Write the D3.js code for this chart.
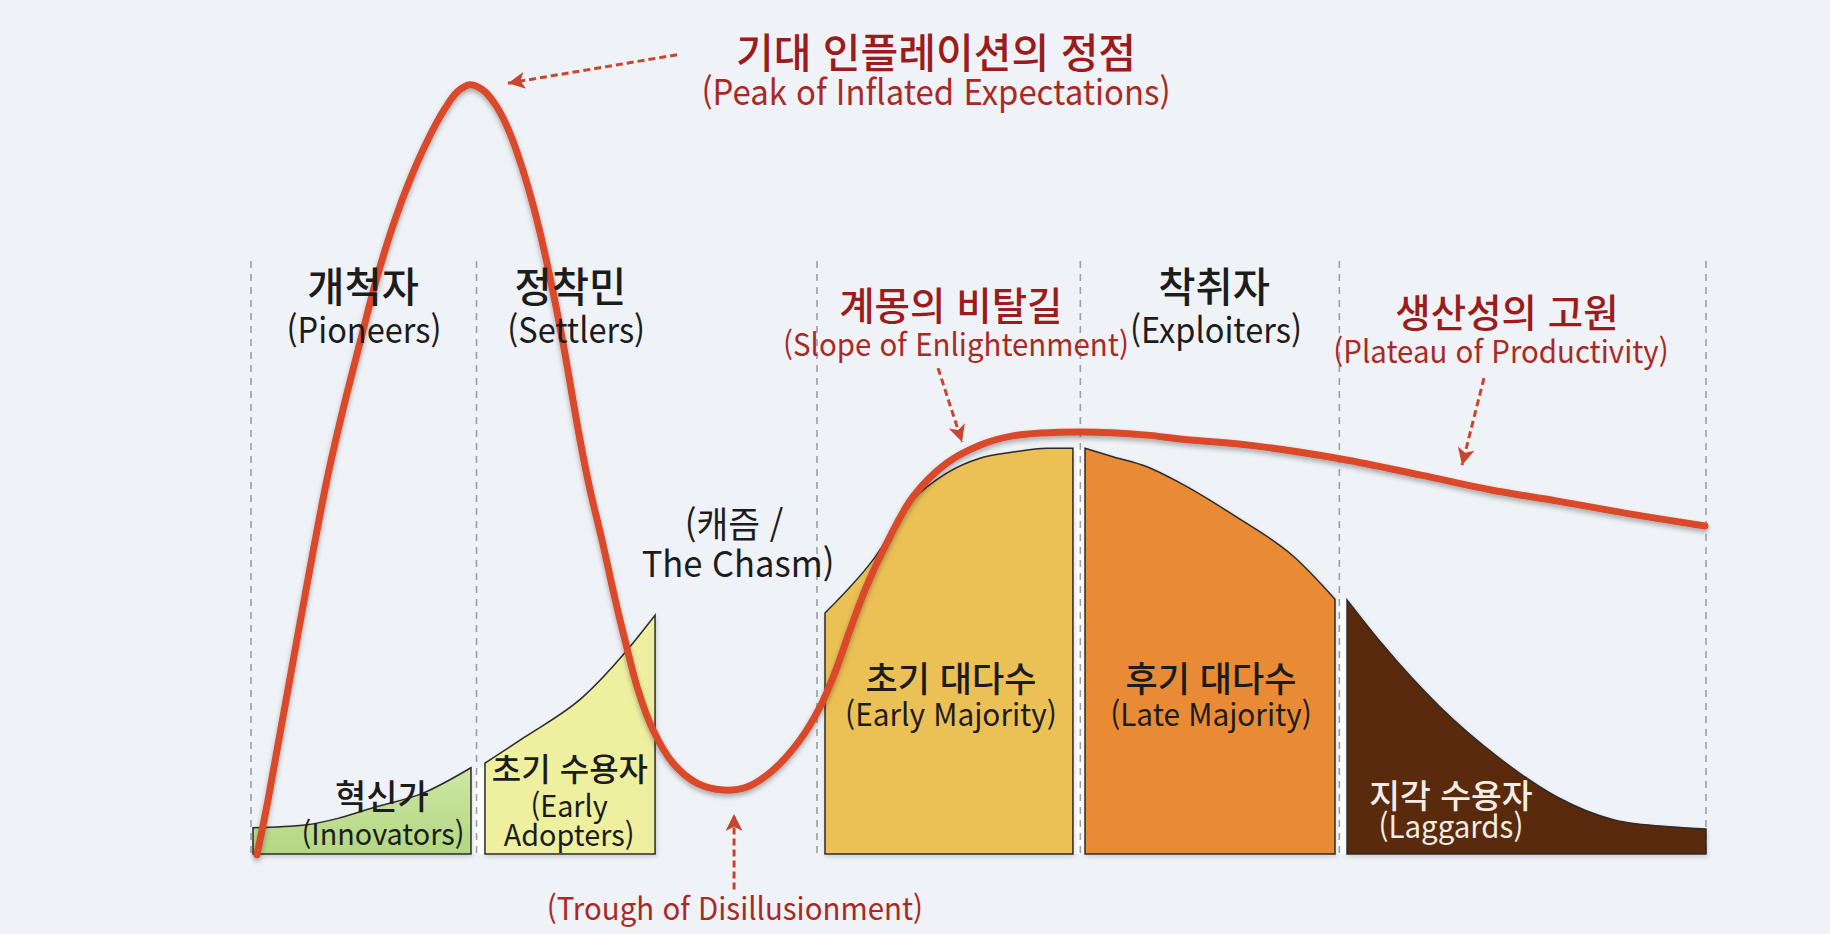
<!DOCTYPE html>
<html lang="ko">
<head>
<meta charset="utf-8">
<title>Hype Cycle and Adoption Curve</title>
<script src="https://cdn.jsdelivr.net/npm/d3@7"></script>
<style>
  body { margin: 0; background: #eff2f6; }
  text { font-family: "Noto Sans CJK KR", "Noto Sans", sans-serif; }
</style>
</head>
<body>
<script>

  // x: 0..100 between the outer dashed lines, y: 0 = baseline, 100 = top of the peak
  var hype = [
    [0.41, -0.1], [1.17, 7.0], [3.23, 28.6], [5.22, 48.6], [6.32, 57.7], [7.49, 66.4],
    [8.66, 74.9], [9.88, 82.3], [11.00, 87.9], [12.14, 92.7], [13.26, 96.6], [14.19, 99.0],
    [15.05, 99.9], [15.95, 99.2], [16.91, 97.0], [17.80, 93.6], [18.69, 88.8], [19.66, 82.3],
    [20.55, 74.9], [21.44, 66.4], [22.61, 53.8], [23.30, 47.3], [24.12, 40.8], [24.88, 34.3],
    [25.70, 27.8], [26.60, 21.3], [27.63, 16.1], [29.00, 11.8], [30.65, 9.2], [32.44, 8.3],
    [34.09, 8.7], [35.88, 10.9], [37.73, 14.8], [39.11, 19.1], [40.14, 23.6], [41.17, 29.1],
    [42.27, 34.6], [43.57, 39.9], [45.50, 46.4], [47.84, 50.8], [50.10, 53.1], [52.37, 54.3],
    [56.98, 54.8], [61.58, 54.4], [63.85, 53.9], [68.59, 53.1], [74.91, 51.3], [80.41, 49.2],
    [85.15, 47.3], [89.90, 45.8], [94.64, 44.2], [99.93, 42.6]
  ];

  // adoption curve pieces
  var innovators = [[0.14, 3.4], [3.85, 3.8], [6.12, 4.7], [8.38, 6.0], [11.82, 7.9], [15.12, 11.2]];
  var earlyAdopters = [[16.08, 11.8], [18.83, 15.2], [22.82, 20.4], [25.64, 26.0], [27.77, 31.0]];
  var earlyMajority = [[39.45, 31.3], [42.75, 38.2], [45.50, 46.0], [47.84, 49.5], [50.10, 51.4],
    [52.37, 52.2], [54.71, 52.7], [56.49, 52.7]];
  var lateMajority = [[57.32, 52.7], [59.24, 51.6], [61.58, 50.3], [63.85, 48.2], [67.70, 43.8],
    [71.68, 38.6], [74.50, 33.1]];
  var laggards = [[75.33, 33.0], [77.73, 27.3], [81.72, 19.1], [85.70, 12.6], [89.76, 7.4],
    [93.75, 4.4], [97.80, 3.5], [100, 3.25]];

  var segments = [innovators, earlyAdopters, earlyMajority, lateMajority, laggards];
  var segmentColors = ["url(#greenGrad)", "#eef0a0", "#ebc156", "#e98b36", "#5a2911"];

  // dashed dividers
  var dividers = [0, 15.5, 38.9, 57.0, 74.8, 100];
  var dividerTop = 77;

  // dashed arrows [from, to]
  var arrows = [
    [[29.28, 103.8], [17.66, 100.1]],
    [[47.22, 63.1], [48.87, 53.5]],
    [[84.74, 61.8], [83.23, 50.5]],
    [[33.20, -4.6], [33.20, 5.2]]
  ];

  // labels: text, x, y, kind
  var labels = [
    ["기대 인플레이션의 정점", 47.08, 102.1, "redTitle"],
    ["(Peak of Inflated Expectations)", 47.08, 97.3, "redSubBig"],
    ["개척자", 7.70, 71.7, "blackTitle"],
    ["(Pioneers)", 7.77, 66.4, "blackSub"],
    ["정착민", 21.95, 71.7, "blackTitle"],
    ["(Settlers)", 22.35, 66.4, "blackSub"],
    ["계몽의 비탈길", 48.10, 69.4, "redKr"],
    ["(Slope of Enlightenment)", 48.45, 64.7, "redSub"],
    ["착취자", 66.19, 71.7, "blackTitle"],
    ["(Exploiters)", 66.32, 66.4, "blackSub"],
    ["생산성의 고원", 86.32, 68.4, "redKr"],
    ["(Plateau of Productivity)", 85.91, 63.8, "redSub"],
    ["(캐즘 /", 33.20, 41.0, "chasm"],
    ["The Chasm)", 33.47, 36.0, "chasm"],
    ["혁신가", 9.00, 5.8, "innKr"],
    ["(Innovators)", 9.07, 1.2, "segEn"],
    ["초기 수용자", 21.92, 9.5, "segKr"],
    ["(Early", 21.86, 4.8, "segEn"],
    ["Adopters)", 21.86, 1.0, "segEn"],
    ["초기 대다수", 48.11, 21.0, "majKr"],
    ["(Early Majority)", 48.11, 16.6, "majEn"],
    ["후기 대다수", 65.98, 21.0, "majKr"],
    ["(Late Majority)", 65.98, 16.6, "majEn"],
    ["지각 수용자", 82.47, 6.0, "lagKr"],
    ["(Laggards)", 82.47, 2.1, "lagEn"],
    ["(Trough of Disillusionment)", 33.26, -8.6, "redSub"]
  ];

  var labelStyle = {
    redTitle: { size: 41, color: "#9b1c1c", weight: 500, sx: 1 },
    redSubBig: { size: 35, color: "#ab2925", weight: 400, sx: 0.94 },
    redKr: { size: 38.5, color: "#9b1c1c", weight: 500, sx: 1 },
    redSub: { size: 31, color: "#ab2925", weight: 400, sx: 0.95 },
    blackTitle: { size: 40.5, color: "#1c1c1c", weight: 500, sx: 1 },
    blackSub: { size: 35, color: "#1c1c1c", weight: 400, sx: 0.93 },
    chasm: { size: 36, color: "#1c1c1c", weight: 400, sx: 0.96 },
    innKr: { size: 34, color: "#1c1c1c", weight: 500, sx: 1 },
    segKr: { size: 32, color: "#1c1c1c", weight: 500, sx: 1 },
    segEn: { size: 30, color: "#1c1c1c", weight: 400, sx: 0.96 },
    majKr: { size: 35, color: "#1c1c1c", weight: 500, sx: 1 },
    majEn: { size: 31, color: "#1c1c1c", weight: 400, sx: 0.96 },
    lagKr: { size: 33.5, color: "#f4ede6", weight: 500, sx: 1 },
    lagEn: { size: 31, color: "#f4ede6", weight: 400, sx: 0.95 }
  };

  var w = 1830;
  var h = 934;

  var xScale = d3.scaleLinear().domain([0, 100]).range([251, 1706]);
  var yScale = d3.scaleLinear().domain([0, 100]).range([854, 84]);

  var svg = d3.select("body")
    .append("svg")
    .attr("width", w)
    .attr("height", h);

  var defs = svg.append("defs");

  var grad = defs.append("linearGradient")
    .attr("id", "greenGrad")
    .attr("x1", 0).attr("y1", 0).attr("x2", 0).attr("y2", 1);
  grad.append("stop").attr("offset", "0%").attr("stop-color", "#cfe6a4");
  grad.append("stop").attr("offset", "100%").attr("stop-color", "#b3d783");

  var shadow = defs.append("filter")
    .attr("id", "shadow")
    .attr("x", "-10%").attr("y", "-10%").attr("width", "120%").attr("height", "130%");
  shadow.append("feDropShadow")
    .attr("dx", 0).attr("dy", 3)
    .attr("stdDeviation", 2.5)
    .attr("flood-color", "#000")
    .attr("flood-opacity", 0.3);

  var softShadow = defs.append("filter")
    .attr("id", "softShadow")
    .attr("x", "-10%").attr("y", "-10%").attr("width", "120%").attr("height", "130%");
  softShadow.append("feDropShadow")
    .attr("dx", 1).attr("dy", 2)
    .attr("stdDeviation", 2)
    .attr("flood-color", "#000")
    .attr("flood-opacity", 0.15);

  defs.append("marker")
    .attr("id", "head")
    .attr("viewBox", "0 0 10 10")
    .attr("refX", 10).attr("refY", 5)
    .attr("markerUnits", "userSpaceOnUse")
    .attr("markerWidth", 20).attr("markerHeight", 17)
    .attr("orient", "auto")
    .append("path")
    .attr("d", "M0,0 L10,5 L0,10 L2.5,5 z")
    .attr("fill", "#c9452f");

  // white gaps between touching segments
  var gaps = [];
  for (var i = 0; i < segments.length - 1; i++) {
    var a = segments[i][segments[i].length - 1];
    var b = segments[i + 1][0];
    if (b[0] - a[0] < 2) gaps.push([a[0], b[0], Math.min(a[1], b[1])]);
  }
  svg.append("g")
    .selectAll("rect")
    .data(gaps)
    .enter()
    .append("rect")
    .attr("x", function (d) { return xScale(d[0]); })
    .attr("y", function (d) { return yScale(d[2]); })
    .attr("width", function (d) { return xScale(d[1]) - xScale(d[0]); })
    .attr("height", function (d) { return yScale(0) - yScale(d[2]); })
    .attr("fill", "#ffffff");

  // dashed dividers
  svg.append("g")
    .selectAll("line")
    .data(dividers)
    .enter()
    .append("line")
    .attr("x1", function (d) { return xScale(d); })
    .attr("x2", function (d) { return xScale(d); })
    .attr("y1", yScale(dividerTop))
    .attr("y2", yScale(0))
    .attr("stroke", "#9c9fa4")
    .attr("stroke-width", 1.6)
    .attr("stroke-dasharray", "7,6");

  // adoption curve pieces
  var area = d3.area()
    .x(function (d) { return xScale(d[0]); })
    .y0(yScale(0))
    .y1(function (d) { return yScale(d[1]); })
    .curve(d3.curveMonotoneX);

  svg.append("g")
    .selectAll("path")
    .data(segments)
    .enter()
    .append("path")
    .attr("d", area)
    .attr("fill", function (d, i) { return segmentColors[i]; })
    .attr("stroke", "#2b2b2b")
    .attr("stroke-width", 1.5)
    .attr("filter", "url(#softShadow)");

  // hype curve
  var line = d3.line()
    .x(function (d) { return xScale(d[0]); })
    .y(function (d) { return yScale(d[1]); })
    .curve(d3.curveCatmullRom.alpha(0.5));

  svg.append("path")
    .datum(hype)
    .attr("d", line)
    .attr("fill", "none")
    .attr("stroke", "#d9482b")
    .attr("stroke-width", 7)
    .attr("stroke-linecap", "round")
    .attr("filter", "url(#shadow)");

  // dashed arrows
  svg.append("g")
    .selectAll("line")
    .data(arrows)
    .enter()
    .append("line")
    .attr("x1", function (d) { return xScale(d[0][0]); })
    .attr("y1", function (d) { return yScale(d[0][1]); })
    .attr("x2", function (d) { return xScale(d[1][0]); })
    .attr("y2", function (d) { return yScale(d[1][1]); })
    .attr("stroke", "#c9452f")
    .attr("stroke-width", 3)
    .attr("stroke-dasharray", "7,4")
    .attr("marker-end", "url(#head)");

  // labels
  svg.append("g")
    .selectAll("text")
    .data(labels)
    .enter()
    .append("text")
    .attr("transform", function (d) {
      return "translate(" + xScale(d[1]) + "," + yScale(d[2]) + ") scale(" + labelStyle[d[3]].sx + ",1)";
    })
    .attr("text-anchor", "middle")
    .attr("font-size", function (d) { return labelStyle[d[3]].size + "px"; })
    .attr("font-weight", function (d) { return labelStyle[d[3]].weight; })
    .attr("fill", function (d) { return labelStyle[d[3]].color; })
    .text(function (d) { return d[0]; });

</script>
</body>
</html>
